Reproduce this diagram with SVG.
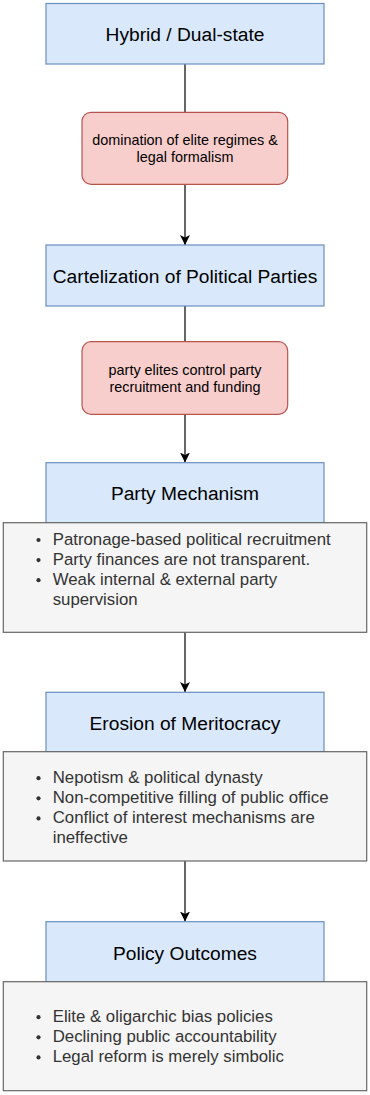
<svg xmlns="http://www.w3.org/2000/svg" width="370" height="1095" viewBox="0 0 370 1095">
<defs>
<style>
.title{fill:#dae8fc;stroke:#6c8ebf;stroke-width:1.2}
.cause{fill:#f8cecc;stroke:#b85450;stroke-width:1.2}
.list{fill:#f5f5f5;stroke:#666666;stroke-width:1.2}
.tt{font-family:"Liberation Sans",Arial,sans-serif;font-size:19.2px;fill:#000;text-anchor:middle}
.ct{font-family:"Liberation Sans",Arial,sans-serif;font-size:14.4px;fill:#000;text-anchor:middle}
.lt{font-family:"Liberation Sans",Arial,sans-serif;font-size:16.8px;fill:#333333}
.dot{fill:#333333}
.edge{stroke:#000;stroke-width:1.2;fill:none}
</style>
<marker id="arr" viewBox="0 0 10 10" refX="10" refY="5" markerWidth="10" markerHeight="10" markerUnits="userSpaceOnUse" orient="auto">
<path d="M0,0 L10,5 L0,10 L2.5,5 Z" fill="#000"/>
</marker>
</defs>
<rect width="370" height="1095" fill="#ffffff"/>
<g id="connectors">
<line class="edge" x1="185" y1="64" x2="185" y2="112"/>
<line class="edge" x1="185" y1="184" x2="185" y2="245" marker-end="url(#arr)"/>
<line class="edge" x1="185" y1="306" x2="185" y2="342"/>
<line class="edge" x1="185" y1="414" x2="185" y2="462.5" marker-end="url(#arr)"/>
<line class="edge" x1="185" y1="632" x2="185" y2="692" marker-end="url(#arr)"/>
<line class="edge" x1="185" y1="861" x2="185" y2="921.5" marker-end="url(#arr)"/>
</g>
<g id="hybrid">
<rect class="title" x="46" y="3.5" width="278" height="60.5"/>
<text class="tt" x="185" y="40.5">Hybrid / Dual-state</text>
</g>
<g id="domination">
<rect class="cause" x="82" y="112.3" width="205.7" height="72" rx="9" ry="9"/>
<text class="ct" x="185" y="145">domination of elite regimes &amp;</text>
<text class="ct" x="185" y="161.7">legal formalism</text>
</g>
<g id="cartelization">
<rect class="title" x="46" y="245" width="278" height="61"/>
<text class="tt" x="185" y="282.8">Cartelization of Political Parties</text>
</g>
<g id="party-elites">
<rect class="cause" x="82" y="341.7" width="205.7" height="72.6" rx="9" ry="9"/>
<text class="ct" x="185" y="375">party elites control party</text>
<text class="ct" x="185" y="391.7">recruitment and funding</text>
</g>
<g id="party-mechanism">
<rect class="title" x="46" y="462.7" width="278" height="60"/>
<text class="tt" x="185" y="499.5">Party Mechanism</text>
<rect class="list" x="3.3" y="522.7" width="363.4" height="109.6"/>
<circle class="dot" cx="38.5" cy="540" r="2.1"/>
<circle class="dot" cx="38.5" cy="560.1" r="2.1"/>
<circle class="dot" cx="38.5" cy="580.2" r="2.1"/>
<text class="lt" x="52.7" y="544.5">Patronage-based political recruitment</text>
<text class="lt" x="52.7" y="564.6">Party finances are not transparent.</text>
<text class="lt" x="52.7" y="584.7">Weak internal &amp; external party</text>
<text class="lt" x="52.7" y="604.8">supervision</text>
</g>
<g id="erosion">
<rect class="title" x="46" y="692.3" width="278" height="59.4"/>
<text class="tt" x="185" y="729.5">Erosion of Meritocracy</text>
<rect class="list" x="3.3" y="751.7" width="363.4" height="109.3"/>
<circle class="dot" cx="38.5" cy="778.2" r="2.1"/>
<circle class="dot" cx="38.5" cy="798.3" r="2.1"/>
<circle class="dot" cx="38.5" cy="818.4" r="2.1"/>
<text class="lt" x="52.7" y="782.7">Nepotism &amp; political dynasty</text>
<text class="lt" x="52.7" y="802.8">Non-competitive filling of public office</text>
<text class="lt" x="52.7" y="822.9">Conflict of interest mechanisms are</text>
<text class="lt" x="52.7" y="843">ineffective</text>
</g>
<g id="policy-outcomes">
<rect class="title" x="46" y="921.7" width="278" height="60"/>
<text class="tt" x="185" y="960">Policy Outcomes</text>
<rect class="list" x="3.3" y="981.7" width="363.4" height="109"/>
<circle class="dot" cx="38.5" cy="1017.2" r="2.1"/>
<circle class="dot" cx="38.5" cy="1037.3" r="2.1"/>
<circle class="dot" cx="38.5" cy="1057.4" r="2.1"/>
<text class="lt" x="52.7" y="1021.7">Elite &amp; oligarchic bias policies</text>
<text class="lt" x="52.7" y="1041.8">Declining public accountability</text>
<text class="lt" x="52.7" y="1061.9">Legal reform is merely simbolic</text>
</g>
</svg>
